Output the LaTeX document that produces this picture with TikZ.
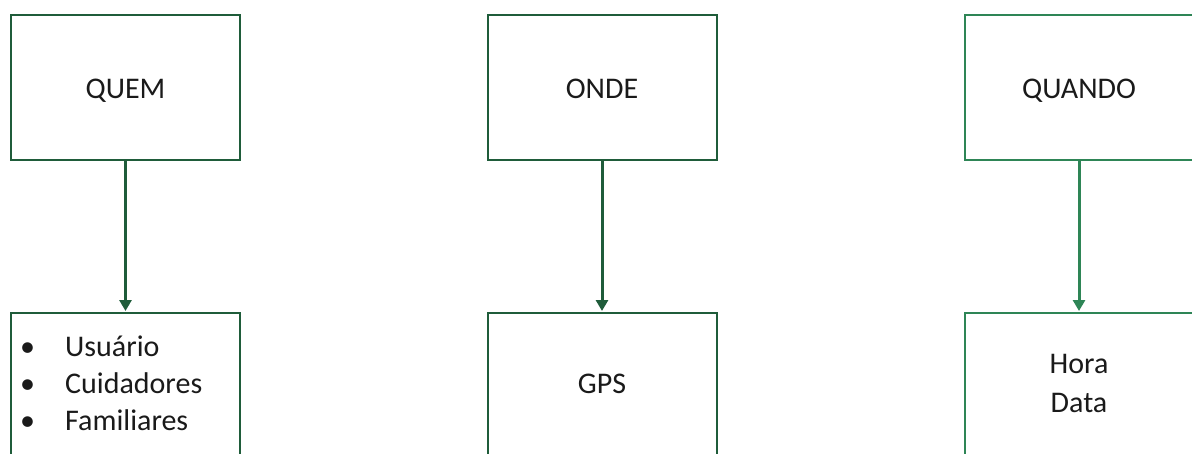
\documentclass[tikz,border=0pt]{standalone}
\usepackage{fontspec}
\setmainfont{Carlito}
\usetikzlibrary{arrows.meta}
\definecolor{darkgreen}{HTML}{1F5C3A}
\definecolor{midgreen}{HTML}{2E8556}
\definecolor{ink}{HTML}{1A1A1A}
\tikzset{
  box/.style={draw=#1, line width=2pt, minimum width=229pt, minimum height=145pt, inner sep=0pt},
  link/.style={draw=#1, line width=3pt, -{Triangle[width=12pt,length=11pt]}, shorten >=0.5pt},
  label/.style={inner sep=0pt, text=ink, font=\fontsize{30}{37}\selectfont, anchor=base},
  list/.style={inner sep=0pt, text=ink, font=\fontsize{30}{37}\selectfont, anchor=west}
}
\begin{document}
\begin{tikzpicture}[x=1pt,y=-1pt]
  \useasboundingbox (0,0) rectangle (1192,453);
  \clip (0,0) rectangle (1192,453);
  % boxes, top row
  \node[box=darkgreen] (quem)   at (125.5,87) {};
  \node[box=darkgreen] (onde)   at (602,87)   {};
  \node[box=midgreen]  (quando) at (1079,87)  {};
  % boxes, bottom row
  \node[box=darkgreen] (quemB)   at (125.5,385) {};
  \node[box=darkgreen] (ondeB)   at (602,385)   {};
  \node[box=midgreen]  (quandoB) at (1079,385)  {};
  % titles
  \node[label] (tQuem)   at (125.5,98) {QUEM};
  \node[label] (tOnde)   at (602,98)   {ONDE};
  \node[label] (tQuando) at (1079,98)  {QUANDO};
  % contents
  \node[list] (lista) at (20,386)
    {\begin{tabular}{@{}p{45pt}@{}l@{}}
       \textbullet & Usuário\\
       \textbullet & Cuidadores\\
       \textbullet & Familiares
     \end{tabular}};
  \node[label] (gps)  at (602,393)  {GPS};
  \node[label] (hora) at (1079,373) {Hora};
  \node[label] (data) at (1079,412) {Data};
  % connectors
  \draw[link=darkgreen] (quem.south)   -- (quemB.north);
  \draw[link=darkgreen] (onde.south)   -- (ondeB.north);
  \draw[link=midgreen]  (quando.south) -- (quandoB.north);
\end{tikzpicture}
\end{document}
